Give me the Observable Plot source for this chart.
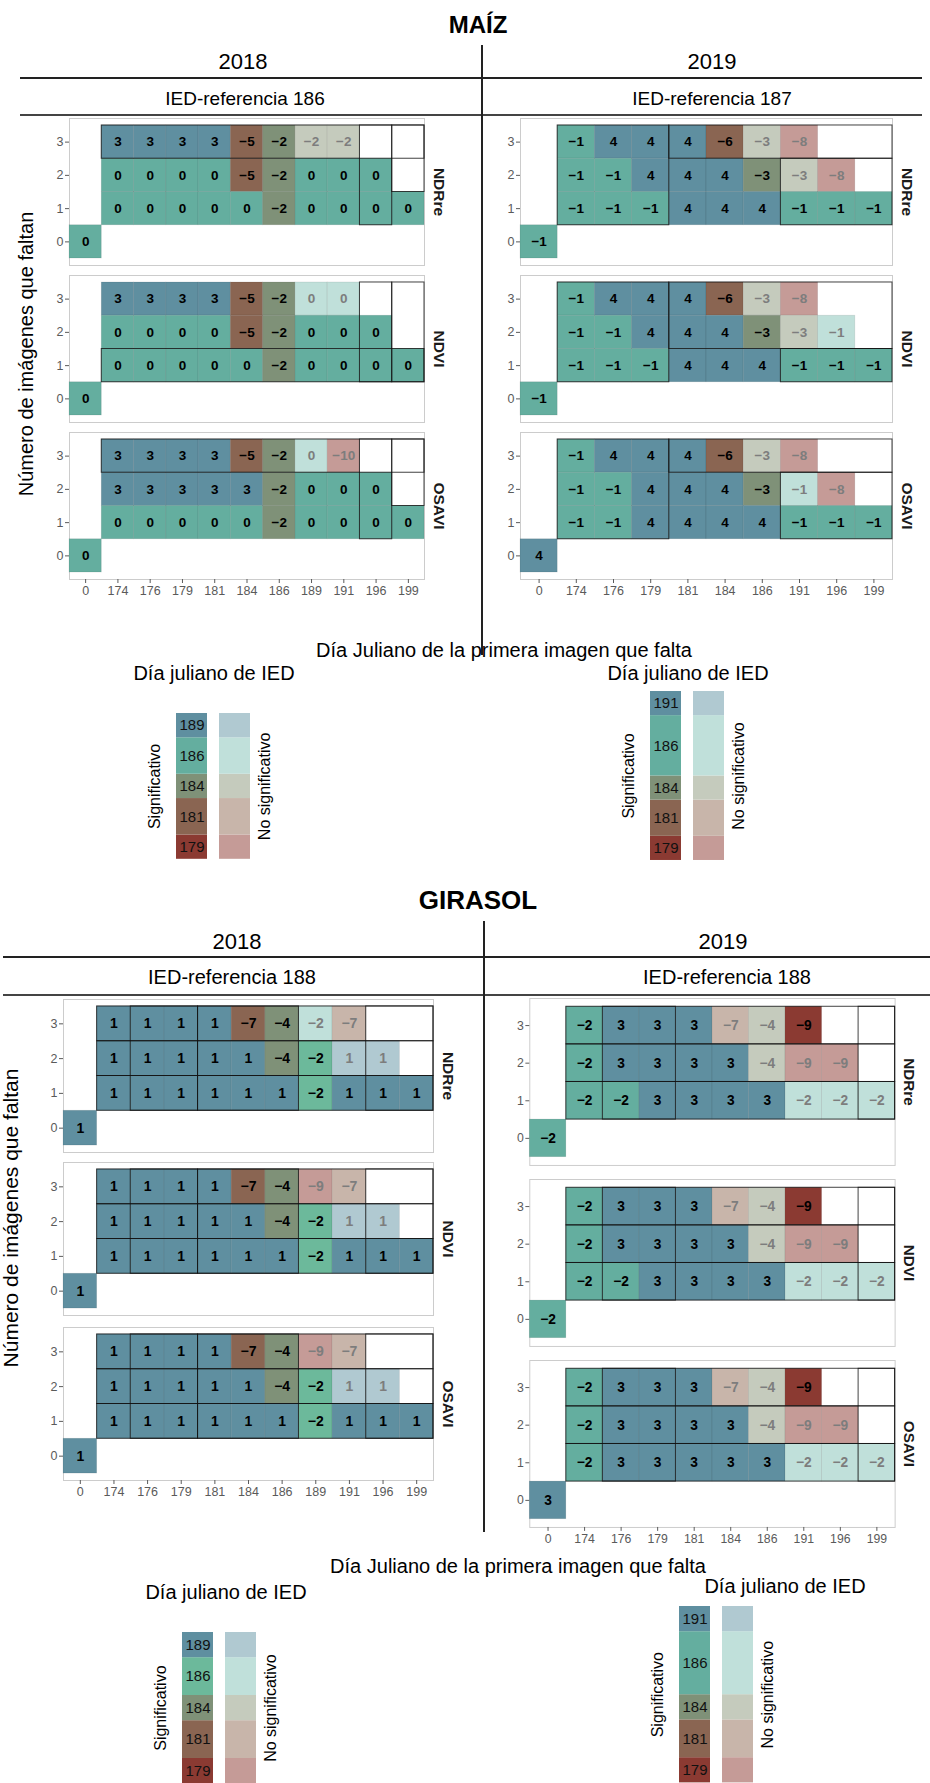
<!DOCTYPE html>
<html><head><meta charset="utf-8">
<script src="https://cdn.jsdelivr.net/npm/d3@7"></script>
<script src="https://cdn.jsdelivr.net/npm/@observablehq/plot@0.6"></script>
<style>
body{margin:0;background:#fff;font-family:"Liberation Sans",Arial,Helvetica,sans-serif;}
#fig{position:relative;width:930px;height:1783px;overflow:hidden;background:#fff;}
.t{position:absolute;transform:translate(-50%,-50%);white-space:nowrap;color:#000;line-height:1;}
.r{transform:translate(-50%,-50%) rotate(-90deg);}
.ln{position:absolute;background:#222;}
.pp{position:absolute;}
</style></head><body><div id="fig"></div>
<script>
const FONT = '"Liberation Sans", Arial, Helvetica, sans-serif';

// categorías del eje x (día juliano de la primera imagen que falta)
const diasA = ["0","174","176","179","181","184","186","189","191","196","199"];
const diasB = ["0","174","176","179","181","184","186","191","196","199"];
const filas = [0, 1, 2, 3];
const indices = ["NDRre", "NDVI", "OSAVI"];

// valores: filas 3, 2, 1 (días 174 → 199) y fila 0 (día 0); "*" = no significativo; "." = vacío
const maiz2018NDRre = ["3 3 3 3 -5 -2 -2* -2* . .", "0 0 0 0 -5 -2 0 0 0 .", "0 0 0 0 0 -2 0 0 0 0", "0"];
const maiz2018NDVI  = ["3 3 3 3 -5 -2 0* 0* . .", "0 0 0 0 -5 -2 0 0 0 .", "0 0 0 0 0 -2 0 0 0 0", "0"];
const maiz2018OSAVI = ["3 3 3 3 -5 -2 0* -10* . .", "3 3 3 3 3 -2 0 0 0 .", "0 0 0 0 0 -2 0 0 0 0", "0"];
const maiz2019NDRre = ["-1 4 4 4 -6 -3* -8* . .", "-1 -1 4 4 4 -3 -3* -8* .", "-1 -1 -1 4 4 4 -1 -1 -1", "-1"];
const maiz2019NDVI  = ["-1 4 4 4 -6 -3* -8* . .", "-1 -1 4 4 4 -3 -3* -1* .", "-1 -1 -1 4 4 4 -1 -1 -1", "-1"];
const maiz2019OSAVI = ["-1 4 4 4 -6 -3* -8* . .", "-1 -1 4 4 4 -3 -1* -8* .", "-1 -1 4 4 4 4 -1 -1 -1", "4"];
const girasol2018NDRre = ["1 1 1 1 -7 -4 -2* -7* . .", "1 1 1 1 1 -4 -2 1* 1* .", "1 1 1 1 1 1 -2 1 1 1", "1"];
const girasol2018NDVI  = ["1 1 1 1 -7 -4 -9* -7* . .", "1 1 1 1 1 -4 -2 1* 1* .", "1 1 1 1 1 1 -2 1 1 1", "1"];
const girasol2018OSAVI = ["1 1 1 1 -7 -4 -9* -7* . .", "1 1 1 1 1 -4 -2 1* 1* .", "1 1 1 1 1 1 -2 1 1 1", "1"];
const girasol2019NDRre = ["-2 3 3 3 -7* -4* -9 . .", "-2 3 3 3 3 -4* -9* -9* .", "-2 -2 3 3 3 3 -2* -2* -2*", "-2"];
const girasol2019NDVI  = ["-2 3 3 3 -7* -4* -9 . .", "-2 3 3 3 3 -4* -9* -9* .", "-2 -2 3 3 3 3 -2* -2* -2*", "-2"];
const girasol2019OSAVI = ["-2 3 3 3 -7* -4* -9 . .", "-2 3 3 3 3 -4* -9* -9* .", "-2 3 3 3 3 3 -2* -2* -2*", "3"];

// IED de referencia y días de la leyenda
const refMaiz2018 = 186, refMaiz2019 = 187, refGirasol2018 = 188, refGirasol2019 = 188;
const diasLeyenda2018 = [189, 186, 184, 181, 179];
const diasLeyenda2019 = [191, 186, 184, 181, 179];

// contornos negros [día desde, día hasta, fila desde, fila hasta]
const bordesMaiz2018 = {
  NDRre: [["174","199",3,3],["196","196",1,3],["199","199",2,3]],
  NDVI:  [["196","196",1,3],["199","199",1,3],["174","199",1,1]],
  OSAVI: [["174","199",3,3],["196","196",1,3],["199","199",2,3]]
};
const bordesMaiz2019 = {
  NDRre: [["174","179",1,3],["191","199",1,2],["181","199",3,3]],
  NDVI:  [["174","179",1,3],["191","199",1,1],["181","199",2,3]],
  OSAVI: [["174","179",1,3],["191","199",1,2],["181","199",3,3]]
};
const bordesGirasol2018 = [["174","199",3,3],["174","199",2,2],["174","199",1,1],["176","179",1,3],["181","186",1,3],["196","199",1,3]];
const bordesGirasol2019 = [["174","199",3,3],["174","199",2,2],["174","199",1,1],["176","179",1,3],["199","199",1,3]];

// colores por día de IED
const colSig = {179:"#8b3a32",181:"#8a6552",184:"#7f9178",186:"#64ae9f",189:"#5f8fa0",191:"#5f8fa0"};
const colNS  = {179:"#c59b97",181:"#c8b5aa",184:"#c5cbbd",186:"#c0e0da",189:"#b0c9d1",191:"#b0c9d1"};
const colSigGirasol2018 = {...colSig, 186:"#6cb99b"};

const fig = document.getElementById("fig");
const fmt = v => v < 0 ? "\u2212" + Math.abs(v) : String(v);

function txt(s, x, y, size, opts = {}) {
  const d = document.createElement("div");
  d.className = "t" + (opts.rot ? " r" : "");
  d.textContent = s;
  d.style.left = x + "px"; d.style.top = y + "px";
  d.style.fontSize = size + "px";
  if (opts.bold) d.style.fontWeight = "bold";
  fig.appendChild(d);
}
function line(x1, y1, x2, y2, w, c) {
  const d = document.createElement("div");
  d.className = "ln";
  if (y1 === y2) { d.style.left = x1 + "px"; d.style.top = (y1 - w/2) + "px"; d.style.width = (x2 - x1) + "px"; d.style.height = w + "px"; }
  else { d.style.left = (x1 - w/2) + "px"; d.style.top = y1 + "px"; d.style.height = (y2 - y1) + "px"; d.style.width = w + "px"; }
  if (c) d.style.background = c;
  fig.appendChild(d);
}
function place(node, left, top) {
  const w = document.createElement("div");
  w.className = "pp"; w.style.left = left + "px"; w.style.top = top + "px";
  w.appendChild(node); fig.appendChild(w);
}

function parseGrid(rows) {
  const cells = [];
  rows.slice(0, 3).forEach((ln, k) => {
    const r = 3 - k;
    ln.split(" ").forEach((tok, j) => {
      if (tok === ".") return;
      cells.push({i: j + 1, r, v: +tok.replace("*", ""), sig: !tok.endsWith("*")});
    });
  });
  const t = rows[3];
  cells.push({i: 0, r: 0, v: +t.replace("*", ""), sig: !t.endsWith("*")});
  return cells;
}

function panel(g) {
  const {cols, grid, outl, ref, days, sigPal, label, x0, plotW, top, h, pad, showX, fs} = g;
  const cells = parseGrid(grid).map(d => {
    const day = ref + d.v;
    const cls = days.reduce((a, b) => Math.abs(b - day) < Math.abs(a - day) ? b : a);
    return {...d, fill: d.sig ? sigPal[cls] : colNS[cls]};
  });
  const ci = c => cols.indexOf(c);
  const rects = outl.map(([c1, c2, r1, r2]) => ({x1: ci(c1) - 0.5, x2: ci(c2) + 0.5, y1: r1 - 0.5, y2: r2 + 0.5}));
  const mL = 40, mR = 36, mB = showX ? 26 : 0;
  const p = Plot.plot({
    width: mL + plotW + mR, height: h + mB,
    marginLeft: mL, marginRight: mR, marginTop: 0, marginBottom: mB,
    x: {domain: [-0.5, cols.length - 0.5], axis: null},
    y: {domain: [-0.5 - pad, 3.5 + pad], axis: null},
    style: {fontFamily: FONT, background: "transparent", color: "#5a5a5a", overflow: "visible"},
    marks: [
      Plot.frame({stroke: "#cccccc"}),
      Plot.rect(cells, {x1: d => d.i - 0.5, x2: d => d.i + 0.5, y1: d => d.r - 0.5, y2: d => d.r + 0.5,
        fill: "fill", stroke: "#000", strokeOpacity: 0.1, strokeWidth: 0.8}),
      Plot.rect(rects, {x1: "x1", x2: "x2", y1: "y1", y2: "y2", fill: "none", stroke: "#111", strokeOpacity: 0.8, strokeWidth: 1}),
      Plot.text(cells, {x: "i", y: "r", text: d => fmt(d.v), fill: d => d.sig ? "#000" : "#7d7d7d",
        fontWeight: "bold", fontSize: fs}),
      Plot.axisY(filas, {anchor: "left", tickSize: 4, tickPadding: 2, fontSize: 12.5, label: null, fill: "#5a5a5a", stroke: "#5a5a5a"}),
      showX ? Plot.axisX(d3.range(cols.length), {anchor: "bottom", tickFormat: i => cols[i], tickSize: 4, tickPadding: 3, fontSize: 12.5, label: null, fill: "#5a5a5a", stroke: "#5a5a5a"}) : null,
      Plot.text([label], {text: d => d, frameAnchor: "right", textAnchor: "middle", dx: 14, rotate: 90, fontWeight: "bold", fontSize: 15.5, fill: "#1a1a1a"})
    ]
  });
  place(p, x0 - mL, top);
}

function legend(g) {
  const {days, sigPal, x0, top, pxPerDay} = g;
  const asc = [...days].sort((a, b) => a - b);
  const segs = asc.map((d, k) => ({day: d, lo: d, hi: k < asc.length - 1 ? asc[k + 1] : d + 2}));
  const rows = [];
  segs.forEach(s => { rows.push({...s, k: "S", fill: sigPal[s.day]}); rows.push({...s, k: "N", fill: colNS[s.day]}); });
  const span = segs[segs.length - 1].hi - segs[0].lo;
  const mL = 40, mR = 40, W = 74;
  const p = Plot.plot({
    width: mL + W + mR, height: span * pxPerDay,
    marginLeft: mL, marginRight: mR, marginTop: 0, marginBottom: 0,
    x: {domain: ["S", "N"], paddingInner: 0.28, paddingOuter: 0, axis: null},
    y: {domain: [segs[0].lo, segs[segs.length - 1].hi], axis: null},
    style: {fontFamily: FONT, background: "transparent", overflow: "visible"},
    marks: [
      Plot.barY(rows, {x: "k", y1: "lo", y2: "hi", fill: "fill"}),
      Plot.text(segs, {x: () => "S", y: d => (d.lo + d.hi) / 2, text: d => String(d.day), fontSize: 15, fill: "#111"}),
      Plot.text(["Significativo"], {text: d => d, frameAnchor: "left", textAnchor: "middle", dx: -22, rotate: -90, fontSize: 16, fill: "#000"}),
      Plot.text(["No significativo"], {text: d => d, frameAnchor: "right", textAnchor: "middle", dx: 14, rotate: -90, fontSize: 16, fill: "#000"})
    ]
  });
  place(p, x0 - mL, top);
}

// ---------------- MAÍZ ----------------
txt("MAÍZ", 478, 25, 24, {bold: true});
txt("2018", 243, 62, 22); txt("2019", 712, 62, 22);
line(20, 78, 922, 78, 1.5, "#222");
txt("IED-referencia " + refMaiz2018, 245, 98, 19); txt("IED-referencia " + refMaiz2019, 712, 98, 19);
line(20, 115, 922, 115, 1.3, "#444");
line(482, 45, 482, 655, 1.3, "#222");
txt("Número de imágenes que faltan", 26, 354, 20, {rot: true});
txt("Día Juliano de la primera imagen que falta", 504, 650, 20);

const maiz2018 = {NDRre: maiz2018NDRre, NDVI: maiz2018NDVI, OSAVI: maiz2018OSAVI};
const maiz2019 = {NDRre: maiz2019NDRre, NDVI: maiz2019NDVI, OSAVI: maiz2019OSAVI};
const topsMaiz = [118, 275, 432];
indices.forEach((idx, k) => {
  panel({cols: diasA, grid: maiz2018[idx], outl: bordesMaiz2018[idx], ref: refMaiz2018, days: diasLeyenda2018, sigPal: colSig,
    label: idx, x0: 69, plotW: 355, top: topsMaiz[k], h: 147, pad: 0.21, showX: k === 2, fs: 13.5});
  panel({cols: diasB, grid: maiz2019[idx], outl: bordesMaiz2019[idx], ref: refMaiz2019, days: diasLeyenda2019, sigPal: colSig,
    label: idx, x0: 520, plotW: 372, top: topsMaiz[k], h: 147, pad: 0.21, showX: k === 2, fs: 13.5});
});
txt("Día juliano de IED", 214, 673, 20); txt("Día juliano de IED", 688, 673, 20);
legend({days: diasLeyenda2018, sigPal: colSig, x0: 176, top: 713, pxPerDay: 12.15});
legend({days: diasLeyenda2019, sigPal: colSig, x0: 650, top: 691, pxPerDay: 12.07});

// ---------------- GIRASOL ----------------
txt("GIRASOL", 478, 900, 26, {bold: true});
txt("2018", 237, 942, 22); txt("2019", 723, 942, 22);
line(3, 957, 930, 957, 1.5, "#222");
txt("IED-referencia " + refGirasol2018, 232, 977, 20); txt("IED-referencia " + refGirasol2019, 727, 977, 20);
line(3, 995, 930, 995, 1.3, "#444");
line(484, 921, 484, 1532, 1.3, "#222");
txt("Número de imágenes que faltan", 10, 1218, 21, {rot: true});
txt("Día Juliano de la primera imagen que falta", 518, 1566, 20);

const girasol2018 = {NDRre: girasol2018NDRre, NDVI: girasol2018NDVI, OSAVI: girasol2018OSAVI};
const girasol2019 = {NDRre: girasol2019NDRre, NDVI: girasol2019NDVI, OSAVI: girasol2019OSAVI};
const topsG18 = [999, 1162, 1327], topsG19 = [998, 1179, 1360];
indices.forEach((idx, k) => {
  panel({cols: diasA, grid: girasol2018[idx], outl: bordesGirasol2018, ref: refGirasol2018, days: diasLeyenda2018, sigPal: colSigGirasol2018,
    label: idx, x0: 63, plotW: 370, top: topsG18[k], h: 153, pad: 0.2, showX: k === 2, fs: 14});
  panel({cols: diasB, grid: girasol2019[idx], outl: bordesGirasol2019, ref: refGirasol2019, days: diasLeyenda2019, sigPal: colSig,
    label: idx, x0: 530, plotW: 372, top: topsG19[k], h: 170, pad: 0.22, showX: k === 2, fs: 14});
});
txt("Día juliano de IED", 226, 1592, 20); txt("Día juliano de IED", 785, 1586, 20);
legend({days: diasLeyenda2018, sigPal: colSigGirasol2018, x0: 182, top: 1632, pxPerDay: 12.6});
legend({days: diasLeyenda2019, sigPal: colSig, x0: 679, top: 1606, pxPerDay: 12.6});
</script></body></html>
